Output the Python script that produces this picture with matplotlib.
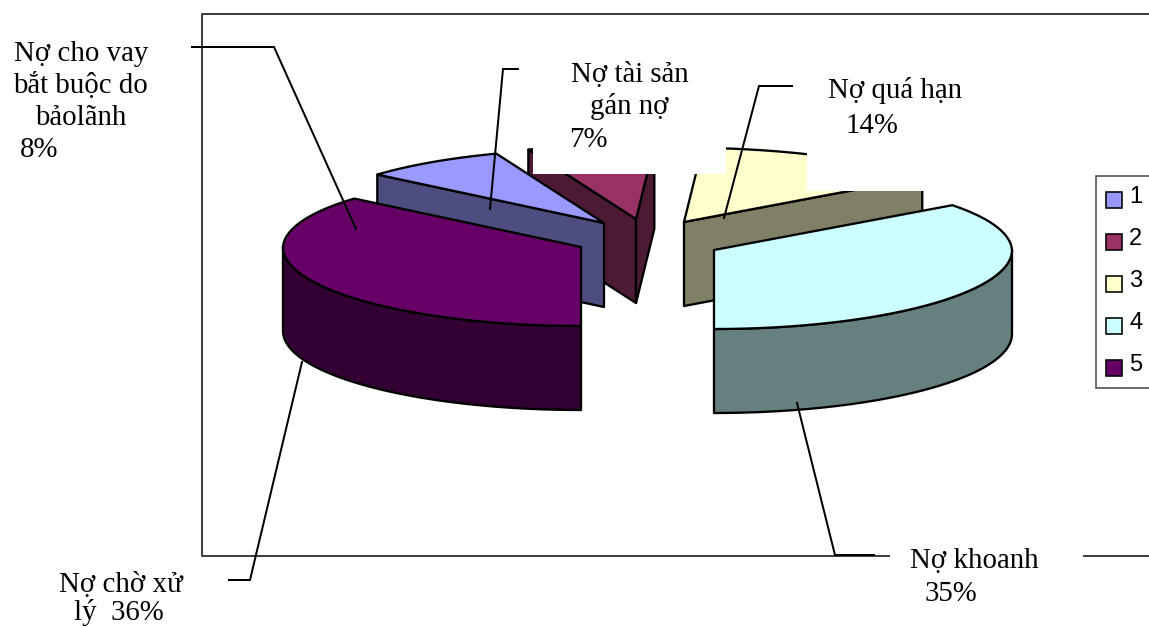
import numpy as np
import matplotlib
matplotlib.use('Agg')
import matplotlib.pyplot as plt
from matplotlib.patches import Polygon, Rectangle

# share of each debt group, in percent
shares = [8, 7, 14, 35, 36]
legend_labels = ['1', '2', '3', '4', '5']
top_colors = ['#9999ff', '#993366', '#ffffcc', '#ccffff', '#660066']
side_colors = ['#4d4d80', '#4d1a33', '#808066', '#668080', '#330033']

# where the vertex of each exploded slice sits on the canvas (pixels)
vertices = [(604, 223), (636, 219), (684, 222), (714, 250), (581, 247)]

RX, RY, DEPTH = 298, 79, 84
FIRST_ANGLE = 140.4

fig = plt.figure(figsize=(11.49, 6.28), dpi=100)
ax = fig.add_axes([0, 0, 1, 1])
ax.set_xlim(0, 1149)
ax.set_ylim(628, 0)
ax.axis('off')

PX = 0.72  # one pixel in points


def rim(v, a):
    # point on the ellipse around vertex v at angle a (degrees)
    # the far half is a little smaller, for the perspective
    a = np.radians(a)
    far = np.clip(np.sin(a), 0, 1)
    rx = RX * (1 - 0.02 * far)
    ry = RY * (1 - 0.06 * far)
    return v[0] + rx * np.cos(a), v[1] - ry * np.sin(a)


def draw_slice(i, hi, lo, z):
    v = vertices[i]
    kw = dict(edgecolor='black', linewidth=2.3 * PX, joinstyle='round', zorder=z)
    low = (v[0], v[1] + DEPTH)

    # radial walls facing the viewer
    for a, normal in [(hi, hi + 90), (lo, lo - 90)]:
        if np.sin(np.radians(normal)) < -1e-6:
            p = rim(v, a)
            wall = [v, p, (p[0], p[1] + DEPTH), low]
            ax.add_patch(Polygon(wall, facecolor=side_colors[i], **kw))

    # curved wall, only the front half of the ellipse shows
    front = np.linspace(max(lo, 180 if lo > 90 else -90), min(hi, 270 if lo > 90 else 0), 60)
    if lo < 0 or hi > 180:
        x, y = rim(v, front)
        outline = np.r_[np.c_[x, y], np.c_[x, y + DEPTH][::-1]]
        ax.add_patch(Polygon(outline, facecolor=side_colors[i], **kw))

    # top face
    t = np.linspace(lo, hi, 120)
    x, y = rim(v, t)
    ax.add_patch(Polygon(np.r_[[v], np.c_[x, y]], facecolor=top_colors[i], **kw))


# slice angles run clockwise from the first one
bounds = FIRST_ANGLE - np.cumsum([0] + shares) * 3.6
bounds = np.round(bounds, 1)
spans = [(bounds[i], bounds[i + 1]) for i in range(5)]
spans[4] = (spans[4][1] + 360, spans[4][0] + 360) if spans[4][0] < 0 else spans[4]
spans = [(s[0], s[1]) if s[0] > s[1] else (s[1], s[0]) for s in spans]

# plot area frame
frame = dict(color='#404040', lw=2 * PX, zorder=1, solid_capstyle='butt')
ax.plot([1149, 202, 202, 1149], [14, 14, 556, 556], **frame)

# back to front
for z, i in enumerate([1, 2], start=2):
    draw_slice(i, spans[i][0], spans[i][1], z)

# white label backgrounds hide part of the rear slices and the frame
for x0, y0, x1, y1 in [(533, 55, 726, 174), (807, 70, 985, 191), (890, 540, 1083, 610)]:
    ax.add_patch(Rectangle((x0, y0), x1 - x0, y1 - y0, fc='white', ec='none', zorder=5))

for z, i in zip([6, 7, 8], [0, 3, 4]):
    draw_slice(i, spans[i][0], spans[i][1], z)

# leader lines
leaders = [
    ([192, 274, 356], [47, 47, 229]),
    ([518, 503, 490], [69, 69, 209]),
    ([792, 759, 724], [86, 86, 218]),
    ([874, 835, 797], [555, 555, 403]),
    ([229, 250, 302], [580, 580, 362]),
]
for lx, ly in leaders:
    ax.plot(lx, ly, color='black', lw=2 * PX, zorder=9, solid_joinstyle='miter')

# data labels, one text per line
serif = dict(family='Liberation Serif', fontsize=20.8, color='black', va='baseline', ha='left', zorder=10)
ax.text(14, 61, 'Nợ cho vay', **serif)
ax.text(13, 93, 'bắt buộc do', **serif)
ax.text(35, 125, 'bảolãnh', **serif)
ax.text(20, 157, f'{shares[0]}%', **serif)
ax.text(571, 82, 'Nợ tài sản', **serif)
ax.text(590, 114, 'gán nợ', **serif)
ax.text(569, 147, f'{shares[1]}%', **serif)
ax.text(828, 98, 'Nợ quá hạn', **serif)
ax.text(845, 133, f'{shares[2]}%', **serif)
ax.text(910, 568, 'Nợ khoanh', **serif)
ax.text(925, 601, f'{shares[3]}%', **serif)
ax.text(59, 592, 'Nợ chờ xử', **serif)
ax.text(74, 620, f'lý  {shares[4]}%', **serif)

# legend
ax.add_patch(Rectangle((1096, 176), 70, 212, fc='white', ec='#404040', lw=1.5 * PX, zorder=11))
for k, (name, color) in enumerate(zip(legend_labels, top_colors)):
    yc = 200 + k * 42
    ax.add_patch(Rectangle((1106, yc - 8), 16, 16, fc=color, ec='black', lw=1.6 * PX, zorder=12))
    ax.text(1129, yc - 3, name, family='Liberation Sans', fontsize=17, color='black',
            va='center', ha='left', zorder=12)

fig.savefig('out.png', dpi=100)
